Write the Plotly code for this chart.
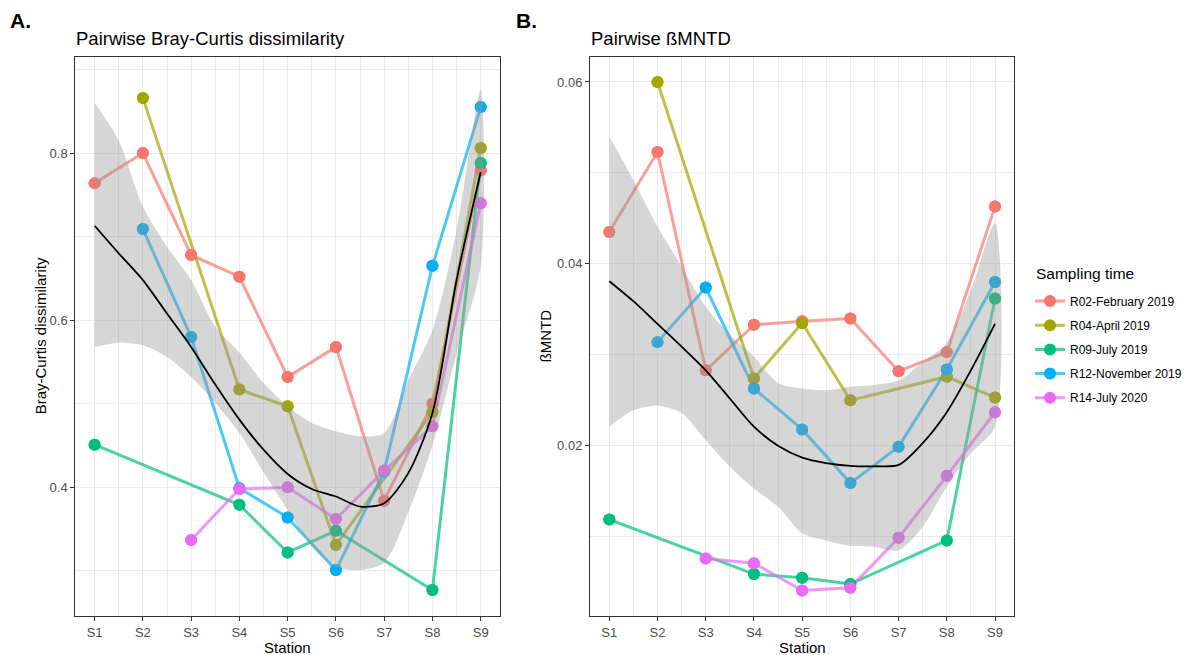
import plotly.graph_objects as go

# ---------------- data ----------------
stations = ["S1", "S2", "S3", "S4", "S5", "S6", "S7", "S8", "S9"]
station_pos = list(range(1, len(stations) + 1))
series_names = ["R02-February 2019", "R04-April 2019", "R09-July 2019",
                "R12-November 2019", "R14-July 2020"]
series_colors = ["#F8766D", "#A3A500", "#00BF7D", "#00B0F6", "#E76BF3"]
line_colors = ["rgba(248,118,109,0.7)", "rgba(163,165,0,0.7)", "rgba(0,191,125,0.7)",
               "rgba(0,176,246,0.7)", "rgba(231,107,243,0.7)"]

# Panel A: Bray-Curtis dissimilarity
bc_R02 = [0.764, 0.800, 0.678, 0.652, 0.532, 0.568, 0.384, 0.500, 0.779]
bc_R04 = [None, 0.866, None, 0.517, 0.497, 0.331, None, 0.490, 0.806]
bc_R09 = [0.451, None, None, 0.379, 0.322, 0.348, None, 0.277, 0.788]
bc_R12 = [None, 0.709, 0.580, 0.399, 0.364, 0.301, 0.419, 0.665, 0.855]
bc_R14 = [None, None, 0.337, 0.398, 0.400, 0.362, 0.420, 0.473, 0.740]

# Panel B: beta MNTD
mn_R02 = [0.0435, 0.0523, 0.0283, 0.0333, 0.0337, 0.0340, 0.0282, 0.0303, 0.0463]
mn_R04 = [None, 0.0600, None, 0.0274, 0.0335, 0.0250, None, 0.0276, 0.0253]
mn_R09 = [0.0119, None, None, 0.0059, 0.0055, 0.0048, None, 0.0096, 0.0362]
mn_R12 = [None, 0.0314, 0.0374, 0.0263, 0.0218, 0.0159, 0.0199, 0.0284, 0.0380]
mn_R14 = [None, None, 0.0076, 0.0071, 0.0041, 0.0044, 0.0099, 0.0167, 0.0237]

# smoother (loess) at half-station steps
smooth_pos = [1, 1.5, 2, 2.5, 3, 3.5, 4, 4.5, 5, 5.5, 6, 6.5, 7, 7.5, 8, 8.5, 9]
bc_fit = [0.713, 0.680, 0.648, 0.608, 0.568, 0.523, 0.481, 0.445, 0.416, 0.398,
          0.389, 0.377, 0.381, 0.417, 0.489, 0.648, 0.777]
bc_upper = [0.860, 0.815, 0.736, 0.688, 0.648, 0.592, 0.561, 0.525, 0.497, 0.477,
            0.467, 0.461, 0.465, 0.528, 0.588, 0.708, 0.876]
bc_lower = [0.568, 0.573, 0.570, 0.556, 0.532, 0.501, 0.465, 0.418, 0.373, 0.329,
            0.305, 0.301, 0.310, 0.370, 0.450, 0.560, 0.665]
mn_fit = [0.0381, 0.0359, 0.0334, 0.0309, 0.0283, 0.0252, 0.0221, 0.0200, 0.0187,
          0.0181, 0.0178, 0.01775, 0.0179, 0.0203, 0.0237, 0.0283, 0.0334]
mn_upper = [0.0540, 0.0492, 0.0441, 0.0397, 0.0353, 0.0322, 0.0298, 0.0269, 0.0263,
            0.0261, 0.0265, 0.0267, 0.0272, 0.0292, 0.0313, 0.0371, 0.0445]
mn_lower = [0.0221, 0.0239, 0.0244, 0.0236, 0.0206, 0.0177, 0.0153, 0.0133, 0.0104,
            0.0096, 0.0090, 0.0089, 0.0085, 0.0111, 0.0155, 0.0192, 0.0221]

bc_series = [bc_R02, bc_R04, bc_R09, bc_R12, bc_R14]
mn_series = [mn_R02, mn_R04, mn_R09, mn_R12, mn_R14]

FONT = "Liberation Sans, Arial, sans-serif"
W, H = 1200, 655

fig = go.Figure()


def add_panel(series, fit, upper, lower, xa, ya, legend):
    # lines (with markers for legend key)
    for name, vals, col, lcol in zip(series_names, series, series_colors, line_colors):
        fig.add_trace(go.Scatter(
            x=station_pos, y=vals, mode="lines+markers", connectgaps=True,
            line=dict(color=lcol, width=3), marker=dict(color=col, size=12),
            name=name, legendgroup=name, showlegend=legend,
            xaxis=xa, yaxis=ya, hoverinfo="skip"))
    # points on top of all lines
    for name, vals, col in zip(series_names, series, series_colors):
        fig.add_trace(go.Scatter(
            x=station_pos, y=vals, mode="markers",
            marker=dict(color=col, size=12), showlegend=False,
            legendgroup=name, xaxis=xa, yaxis=ya, hoverinfo="skip"))
    # confidence ribbon
    fig.add_trace(go.Scatter(
        x=smooth_pos + smooth_pos[::-1], y=upper + lower[::-1],
        mode="lines", fill="toself", fillcolor="rgba(153,153,153,0.4)",
        line=dict(width=0, color="rgba(0,0,0,0)", shape="spline", smoothing=0.8),
        showlegend=False, xaxis=xa, yaxis=ya, hoverinfo="skip"))
    # loess line
    fig.add_trace(go.Scatter(
        x=smooth_pos, y=fit, mode="lines",
        line=dict(color="black", width=1.8, shape="spline", smoothing=0.8),
        showlegend=False, xaxis=xa, yaxis=ya, hoverinfo="skip"))


add_panel(bc_series, bc_fit, bc_upper, bc_lower, "x", "y", True)
add_panel(mn_series, mn_fit, mn_upper, mn_lower, "x2", "y2", False)

ydom = [1 - 616 / H, 1 - 56.7 / H]
xaxis_common = dict(
    range=[0.6, 9.4], tickmode="array", tickvals=station_pos, ticktext=stations,
    showgrid=True, gridcolor="#EBEBEB", gridwidth=1,
    minor=dict(tickmode="array", tickvals=[p + 0.5 for p in station_pos[:-1]],
               showgrid=True, gridcolor="#EBEBEB", gridwidth=0.6, ticks=""),
    ticks="outside", ticklen=4, tickcolor="#333333", tickwidth=1,
    tickfont=dict(family=FONT, size=13, color="#4D4D4D"),
    showline=True, mirror=True, linecolor="#333333", linewidth=1, zeroline=False,
)
yaxis_common = dict(
    showgrid=True, gridcolor="#EBEBEB", gridwidth=1,
    ticks="outside", ticklen=4, tickcolor="#333333", tickwidth=1,
    tickfont=dict(family=FONT, size=13, color="#4D4D4D"),
    showline=True, mirror=True, linecolor="#333333", linewidth=1, zeroline=False,
)

fig.update_layout(
    width=W, height=H, margin=dict(l=0, r=0, t=0, b=0),
    paper_bgcolor="white", plot_bgcolor="white",
    font=dict(family=FONT, color="black"),
    xaxis=dict(domain=[75.3 / W, 500 / W], anchor="y", **xaxis_common),
    yaxis=dict(domain=ydom, anchor="x", range=[0.246, 0.9153],
               tickmode="array", tickvals=[0.4, 0.6, 0.8], ticktext=["0.4", "0.6", "0.8"],
               minor=dict(tickmode="array", tickvals=[0.3, 0.5, 0.7, 0.9], showgrid=True,
                          gridcolor="#EBEBEB", gridwidth=0.6, ticks=""),
               **yaxis_common),
    xaxis2=dict(domain=[590 / W, 1014.3 / W], anchor="y2", **xaxis_common),
    yaxis2=dict(domain=ydom, anchor="x2", range=[0.00129, 0.06278],
                tickmode="array", tickvals=[0.02, 0.04, 0.06], ticktext=["0.02", "0.04", "0.06"],
                minor=dict(tickmode="array", tickvals=[0.01, 0.03, 0.05], showgrid=True,
                           gridcolor="#EBEBEB", gridwidth=0.6, ticks=""),
                **yaxis_common),
    legend=dict(
        x=1030 / W, y=1 - 286.5 / H, xanchor="left", yanchor="top",
        font=dict(family=FONT, size=12, color="black"),
        tracegroupgap=5.2, bgcolor="rgba(0,0,0,0)",
    ),
)


def ann(text, x, y, size, xanchor="left", yanchor="middle", angle=0, bold=False):
    fig.add_annotation(
        text=f"<b>{text}</b>" if bold else text, xref="paper", yref="paper",
        x=x / W, y=1 - y / H, xanchor=xanchor, yanchor=yanchor, showarrow=False,
        textangle=angle, font=dict(family=FONT, size=size, color="black"))


ann("A.", 8, 20.5, 21, bold=True)
ann("B.", 514, 20.5, 21, bold=True)
ann("Pairwise Bray-Curtis dissimilarity", 74, 38.5, 18.5)
ann("Pairwise ßMNTD", 589, 38.5, 18.5)
ann("Station", 287.6, 647.5, 15, xanchor="center")
ann("Station", 802, 647.5, 15, xanchor="center")
ann("Bray-Curtis dissimilarity", 40, 336.3, 15, xanchor="center", angle=-90)
ann("ßMNTD", 545, 336.3, 15, xanchor="center", angle=-90)
ann("Sampling time", 1034, 273, 15.5)

fig.write_html("out.html")
